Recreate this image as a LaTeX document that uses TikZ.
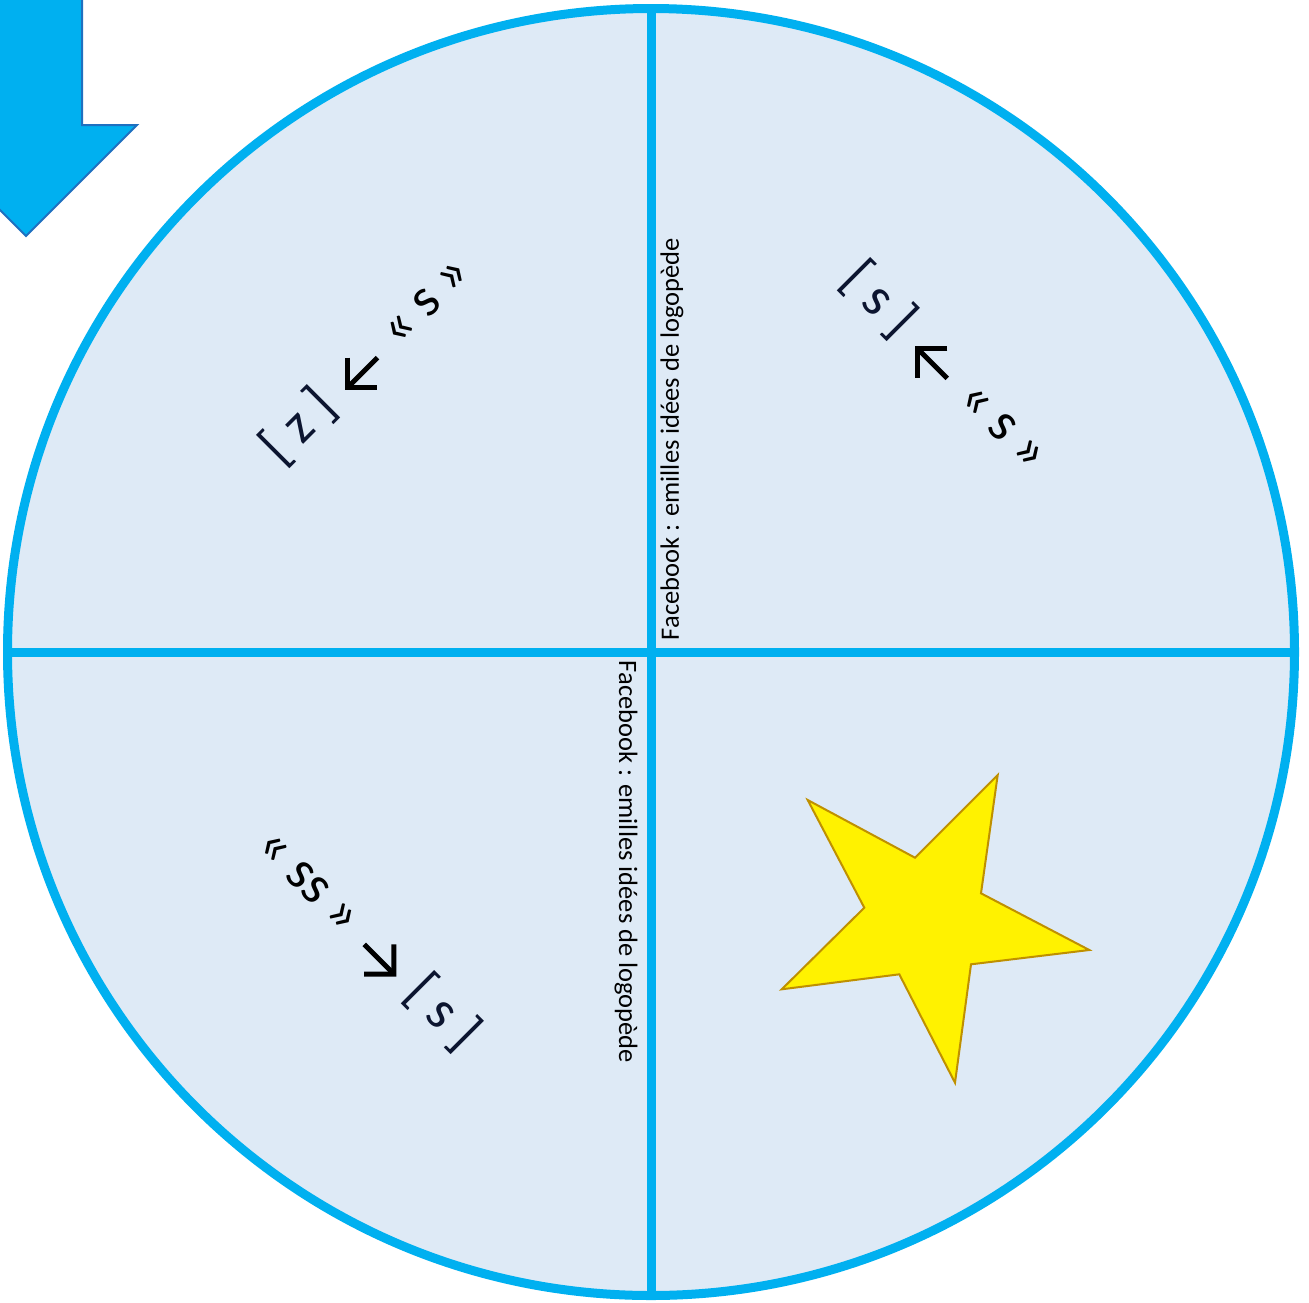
\documentclass[tikz,border=0pt]{standalone}
\usepackage{fontspec}
\setmainfont{Carlito}
\definecolor{ringblue}{HTML}{00B0F0}
\definecolor{pale}{HTML}{DEEAF6}
\definecolor{navy}{HTML}{0C1530}
\definecolor{arrowedge}{HTML}{1F70C0}
\definecolor{staredge}{HTML}{BF9000}
\newsavebox\leftarrowbox
\newsavebox\rightarrowbox
\sbox\leftarrowbox{\tikz[x=1pt,y=1pt,baseline=-9pt]{\draw[line width=5pt,line join=miter] (21,21) -- (0,0) -- (21,-21); \draw[line width=5pt] (1,0) -- (42,0);}}
\sbox\rightarrowbox{\tikz[x=1pt,y=1pt,baseline=-9pt]{\draw[line width=5pt,line join=miter] (21,21) -- (42,0) -- (21,-21); \draw[line width=5pt] (0,0) -- (41,0);}}
\newcommand\arrowgap{\hspace{7pt}}
\begin{document}
\begin{tikzpicture}[x=1pt,y=-1pt,
  ring/.style={draw=ringblue,line width=9pt},
  bigtxt/.style={font=\fontsize{55}{60}\selectfont,inner sep=0pt},
  smalltxt/.style={font=\fontsize{26.5}{30}\selectfont,inner sep=0pt}]
\path[use as bounding box,fill=white] (0,0) rectangle (1309,1302);
\begin{scope}
\clip (0,0) rectangle (1309,1302);
% arrow
\draw[fill=ringblue,draw=arrowedge,line width=2pt,line join=miter]
  (-30,-20) -- (82,-20) -- (82,125) -- (137,125) -- (26,236) -- (-85,125) -- (-30,125) -- cycle;
\end{scope}
% wheel
\node[circle,ring,fill=pale,minimum size=1287pt,inner sep=0pt] (wheel) at (651,652) {};
\draw[ringblue,line width=9pt] (wheel.north) -- (wheel.south);
\draw[ringblue,line width=9pt] (wheel.west) -- (wheel.east);
% star
\draw[fill=yellow,draw=staredge,line width=2pt,line join=miter]
  (997.7,775) -- (915,857.7) -- (807.7,800) -- (864.3,907.7) -- (781.7,989.3)
  -- (899.3,974.3) -- (955,1082.7) -- (971,964.3) -- (1089.3,950) -- (981,893.3) -- cycle;
% texts
\node[bigtxt,rotate=45] (tl) at (368,362) {\textcolor{navy}{[ z ]} \arrowgap\usebox\leftarrowbox\arrowgap{} « s »};
\node[bigtxt,rotate=-45] (tr) at (943,369) {\textcolor{navy}{[ s ]} \arrowgap\usebox\leftarrowbox\arrowgap{} « s »};
\node[bigtxt,rotate=-45] (bl) at (366,941) {« ss » \arrowgap\usebox\rightarrowbox\arrowgap{} \textcolor{navy}{[ s ]}};
\node[smalltxt,rotate=90] (fb1) at (672,439) {Facebook : emilles idées de logopède};
\node[smalltxt,rotate=-90] (fb2) at (626,862) {Facebook : emilles idées de logopède};
\end{tikzpicture}
\end{document}
